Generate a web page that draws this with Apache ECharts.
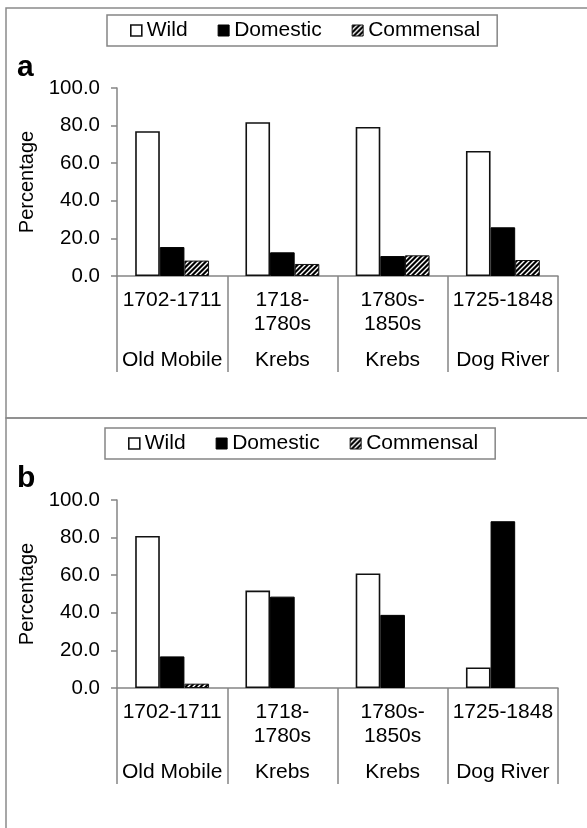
<!DOCTYPE html>
<html>
<head>
<meta charset="utf-8">
<script src="https://cdn.jsdelivr.net/npm/echarts@6/dist/echarts.min.js"></script>
<style>
  html, body { margin: 0; padding: 0; background: #fff; }
  #chart { width: 587px; height: 828px; }
</style>
</head>
<body>
<div id="chart"></div>
<script>
// Periods and sites along the category axis
const periods = ['1702-1711', '1718-\n1780s', '1780s-\n1850s', '1725-1848'];
const sites = ['Old Mobile', 'Krebs', 'Krebs', 'Dog River'];
const seriesNames = ['Wild', 'Domestic', 'Commensal'];
const yTicks = [0, 20, 40, 60, 80, 100];

// Panel a values (%)
const wildA = [77.0, 81.8, 79.3, 66.5];
const domesticA = [15.4, 12.6, 10.6, 25.9];
const commensalA = [8.2, 6.4, 11.0, 8.5];

// Panel b values (%)
const wildB = [80.9, 51.8, 60.9, 10.9];
const domesticB = [16.8, 48.6, 38.9, 88.7];
const commensalB = [2.3, 0, 0, 0];

// Diagonal hatch used for the Commensal bars
function hatchPattern() {
  const s = 5;
  const c = document.createElement('canvas');
  c.width = s; c.height = s;
  const g = c.getContext('2d');
  g.fillStyle = '#000';
  g.fillRect(0, 0, s, s);
  g.strokeStyle = '#fff';
  g.lineWidth = 1.4;
  g.beginPath();
  g.moveTo(-1, s + 1); g.lineTo(s + 1, -1);
  g.moveTo(-1, 1); g.lineTo(1, -1);
  g.moveTo(s - 1, s + 1); g.lineTo(s + 1, s - 1);
  g.stroke();
  return { image: c, repeat: 'repeat' };
}
const hatch = hatchPattern();

const FONT = 'Liberation Sans, Arial, sans-serif';
const AXIS_GREY = '#858585';
const categories = periods.map((p, i) => p + '|' + sites[i]);

const styles = {
  Wild: { color: '#fff', borderColor: '#111', borderWidth: 1.6 },
  Domestic: { color: '#000', borderColor: '#000', borderWidth: 1 },
  Commensal: { color: hatch, borderColor: '#111', borderWidth: 1 }
};

function xAxis(gridIndex) {
  return {
    type: 'category',
    gridIndex,
    data: categories,
    axisLine: { lineStyle: { color: AXIS_GREY, width: 1.5 } },
    axisTick: { show: true, length: 96, interval: 0, lineStyle: { color: AXIS_GREY, width: 1.5 } },
    axisLabel: {
      interval: 0,
      margin: 12,
      formatter: function (v, i) {
        const lines = periods[i].split('\n');
        const l1 = lines[0];
        const l2 = lines[1] || ' ';
        return '{p|' + l1 + '}\n{p|' + l2 + '}\n{s|' + sites[i] + '}';
      },
      rich: {
        p: { fontFamily: FONT, fontSize: 21, color: '#000', lineHeight: 24 },
        s: { fontFamily: FONT, fontSize: 21, color: '#000', lineHeight: 48 }
      }
    }
  };
}

function yAxis(gridIndex) {
  return {
    type: 'value',
    gridIndex,
    min: 0,
    max: 100,
    interval: 20,
    name: 'Percentage',
    nameLocation: 'middle',
    nameGap: 80,
    nameTextStyle: { fontFamily: FONT, fontSize: 20, color: '#000' },
    axisLine: { show: true, lineStyle: { color: AXIS_GREY, width: 1.5 } },
    axisTick: { show: true, length: 6, lineStyle: { color: AXIS_GREY, width: 1.5 } },
    splitLine: { show: false },
    axisLabel: {
      margin: 17,
      fontFamily: FONT,
      fontSize: 20.5,
      color: '#000',
      formatter: v => yTicks.includes(v) ? v.toFixed(1) : ''
    }
  };
}

function barSeries(name, values, idx) {
  return {
    name,
    type: 'bar',
    xAxisIndex: idx,
    yAxisIndex: idx,
    barGap: '0%',
    barCategoryGap: '33%',
    itemStyle: styles[name],
    emphasis: { disabled: true },
    data: values.map(v => v === 0 ? { value: v, itemStyle: { borderWidth: 0 } } : v)
  };
}

function legend(top, left) {
  return {
    top,
    left,
    orient: 'horizontal',
    icon: 'rect',
    itemWidth: 11,
    itemHeight: 11,
    itemGap: 30,
    padding: [5, 17, 5, 23],
    borderColor: AXIS_GREY,
    borderWidth: 1.5,
    selectedMode: false,
    textStyle: { fontFamily: FONT, fontSize: 21, color: '#000' },
    data: seriesNames.map(n => ({ name: n, itemStyle: styles[n] }))
  };
}

const chart = echarts.init(document.getElementById('chart'), null, { renderer: 'canvas' });
chart.setOption({
  animation: false,
  backgroundColor: '#fff',
  title: [
    { text: 'a', left: 12, top: 48, textStyle: { fontFamily: FONT, fontSize: 30, fontWeight: 'bold', color: '#000' } },
    { text: 'b', left: 12, top: 459, textStyle: { fontFamily: FONT, fontSize: 30, fontWeight: 'bold', color: '#000' } }
  ],
  legend: [legend(15, 107), legend(428, 105)],
  graphic: [
    { type: 'rect', shape: { x: 6, y: 8, width: 600, height: 410 }, style: { fill: 'none', stroke: '#8a8a8a', lineWidth: 1.5 }, silent: true },
    { type: 'rect', shape: { x: 6, y: 418, width: 600, height: 430 }, style: { fill: 'none', stroke: '#8a8a8a', lineWidth: 1.5 }, silent: true }
  ],
  grid: [
    { left: 117, top: 88, width: 441, height: 188 },
    { left: 117, top: 500, width: 441, height: 188 }
  ],
  xAxis: [xAxis(0), xAxis(1)],
  yAxis: [yAxis(0), yAxis(1)],
  series: [
    barSeries('Wild', wildA, 0),
    barSeries('Domestic', domesticA, 0),
    barSeries('Commensal', commensalA, 0),
    barSeries('Wild', wildB, 1),
    barSeries('Domestic', domesticB, 1),
    barSeries('Commensal', commensalB, 1)
  ]
});
</script>
</body>
</html>
